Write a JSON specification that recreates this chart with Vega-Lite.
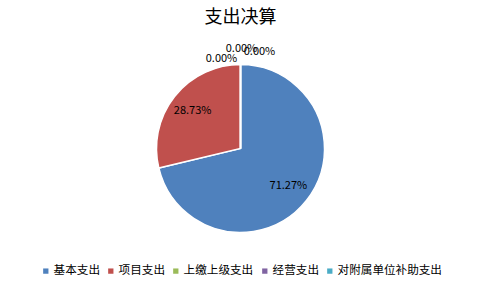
{
  "$schema": "https://vega.github.io/schema/vega-lite/v6.json",
  "width": 481,
  "height": 289,
  "autosize": {"type": "fit", "contains": "padding"},
  "padding": {"top": 18, "bottom": 12, "left": 5, "right": 5},
  "background": "white",
  "title": {"text": "支出决算", "fontSize": 18, "font": "Noto Sans CJK SC", "fontWeight": "normal", "color": "#000000", "anchor": "middle", "offset": 16},
  "data": {"values": [
    {"idx": 1, "cat": "基本支出", "value": 0.7127},
    {"idx": 2, "cat": "项目支出", "value": 0.2873},
    {"idx": 3, "cat": "上缴上级支出", "value": 0},
    {"idx": 4, "cat": "经营支出", "value": 0},
    {"idx": 5, "cat": "对附属单位补助支出", "value": 0}
  ]},
  "encoding": {
    "theta": {"field": "value", "type": "quantitative", "stack": true},
    "order": {"field": "idx", "type": "quantitative"},
    "color": {
      "field": "cat", "type": "nominal",
      "scale": {"domain": ["基本支出", "项目支出", "上缴上级支出", "经营支出", "对附属单位补助支出"],
                "range": ["#4F81BD", "#C0504D", "#9BBB59", "#8064A2", "#4BACC6"]},
      "legend": {"orient": "bottom", "direction": "horizontal", "title": null, "symbolType": "square", "symbolSize": 28, "symbolStrokeWidth": 0, "labelFont": "Noto Sans CJK SC", "labelFontSize": 11.6, "labelColor": "#000000", "columnPadding": 5, "symbolOffset": 0, "labelOffset": 2, "offset": 20}
    }
  },
  "layer": [
    {"mark": {"type": "arc", "outerRadius": 84, "stroke": "white", "strokeWidth": 1.5}},
    {"transform": [{"filter": "datum.value > 0"}],
     "mark": {"type": "text", "radius": 61, "font": "Noto Sans CJK SC", "fontSize": 11, "color": "#000000"},
     "encoding": {"text": {"field": "value", "type": "quantitative", "format": ".2%"}, "color": {"value": "#000000"}}},
    {"transform": [{"filter": "datum.idx == 3"}],
     "mark": {"type": "text", "radius": 92, "dx": -19, "dy": 2, "font": "Noto Sans CJK SC", "fontSize": 11},
     "encoding": {"text": {"field": "value", "type": "quantitative", "format": ".2%"}, "color": {"value": "#000000"}}},
    {"transform": [{"filter": "datum.idx == 4"}],
     "mark": {"type": "text", "radius": 92, "dx": 1, "dy": -8, "font": "Noto Sans CJK SC", "fontSize": 11},
     "encoding": {"text": {"field": "value", "type": "quantitative", "format": ".2%"}, "color": {"value": "#000000"}}},
    {"transform": [{"filter": "datum.idx == 5"}],
     "mark": {"type": "text", "radius": 92, "dx": 19, "dy": -5, "font": "Noto Sans CJK SC", "fontSize": 11},
     "encoding": {"text": {"field": "value", "type": "quantitative", "format": ".2%"}, "color": {"value": "#000000"}}}
  ],
  "config": {"view": {"stroke": null}, "legend": {"layout": {"bottom": {"anchor": "middle"}}}}
}
